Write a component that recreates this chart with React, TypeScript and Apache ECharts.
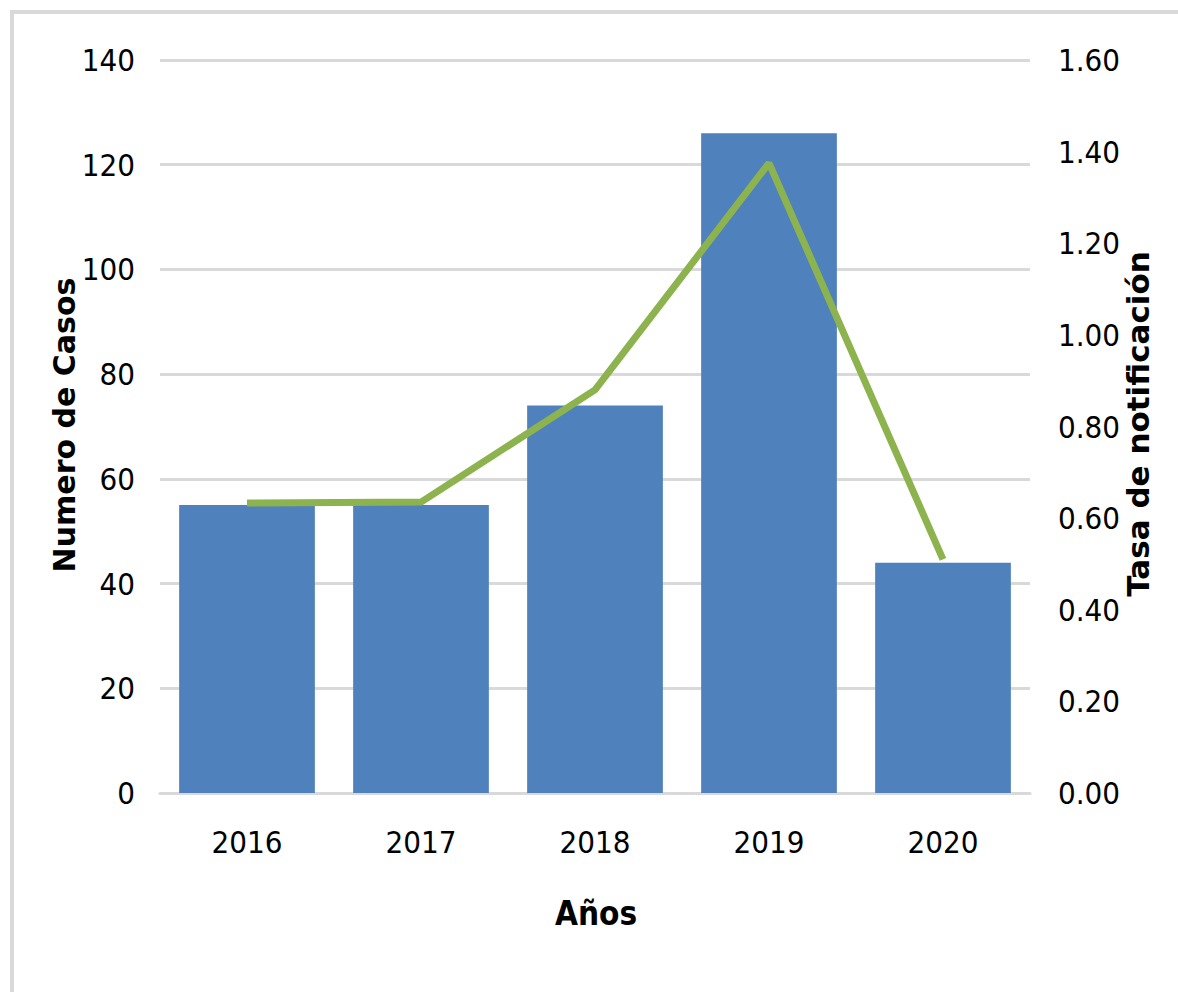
import React, { useEffect, useRef } from "react";
import * as echarts from "echarts";

const years = ["2016", "2017", "2018", "2019", "2020"];
const casos = [55, 55, 74, 126, 44];
const tasa = [0.633, 0.635, 0.88, 1.375, 0.51];
const leftTicks = { min: 0, max: 140, interval: 20 };
const rightTicks = { min: 0, max: 1.6, interval: 0.2 };

const NARROW = "'Liberation Sans Narrow', 'DejaVu Sans Condensed', 'Arial Narrow', sans-serif";
const BOLD = "'DejaVu Sans', Verdana, sans-serif";

export default function App() {
  const ref = useRef<HTMLDivElement>(null);
  useEffect(() => {
    if (!ref.current) return;
    const chart = echarts.init(ref.current, null, { renderer: "svg" });
    chart.setOption({
      animation: false,
      backgroundColor: "#ffffff",
      grid: { left: 160, right: 148, top: 60, bottom: 199, containLabel: false },
      graphic: [
        {
          type: "rect",
          shape: { x: 12, y: 12, width: 1300, height: 1200 },
          style: { fill: "none", stroke: "#d9d9d9", lineWidth: 4 },
          silent: true,
        },
        {
          type: "text",
          x: 64,
          y: 425,
          rotation: Math.PI / 2,
          style: {
            text: "Numero de Casos",
            font: `bold 30px ${BOLD}`,
            fill: "#000000",
            align: "center",
            verticalAlign: "middle",
          },
        },
        {
          type: "text",
          x: 1138,
          y: 424,
          rotation: Math.PI / 2,
          style: {
            text: "Tasa de notificación",
            font: `bold 31px ${BOLD}`,
            fill: "#000000",
            align: "center",
            verticalAlign: "middle",
          },
        },
        {
          type: "text",
          x: 596,
          y: 913,
          style: {
            text: "Años",
            font: `bold 33px ${NARROW}`,
            fill: "#000000",
            align: "center",
            verticalAlign: "middle",
          },
        },
      ],
      xAxis: {
        type: "category",
        data: years,
        axisLine: { show: true, lineStyle: { color: "#d9d9d9", width: 3 } },
        axisTick: { show: false },
        axisLabel: { color: "#000000", fontFamily: NARROW, fontSize: 31, margin: 33 },
      },
      yAxis: [
        {
          type: "value",
          ...leftTicks,
          axisLine: { show: false },
          axisTick: { show: false },
          splitLine: { show: true, lineStyle: { color: "#d9d9d9", width: 3 } },
          axisLabel: { color: "#000000", fontFamily: NARROW, fontSize: 31, margin: 25 },
        },
        {
          type: "value",
          ...rightTicks,
          axisLine: { show: false },
          axisTick: { show: false },
          splitLine: { show: false },
          axisLabel: {
            color: "#000000",
            fontFamily: NARROW,
            fontSize: 31,
            margin: 28,
            formatter: (v: number) => v.toFixed(2),
          },
        },
      ],
      series: [
        {
          type: "bar",
          data: casos,
          yAxisIndex: 0,
          barWidth: "78%",
          itemStyle: { color: "#4f81bd" },
        },
        {
          type: "line",
          data: tasa,
          yAxisIndex: 1,
          symbol: "none",
          lineStyle: { color: "#8db34f", width: 7 },
        },
      ],
    });
    return () => chart.dispose();
  }, []);
  return (
    <div
      ref={ref}
      style={{ position: "absolute", left: 0, top: 0, width: 1178, height: 992 }}
    />
  );
}
